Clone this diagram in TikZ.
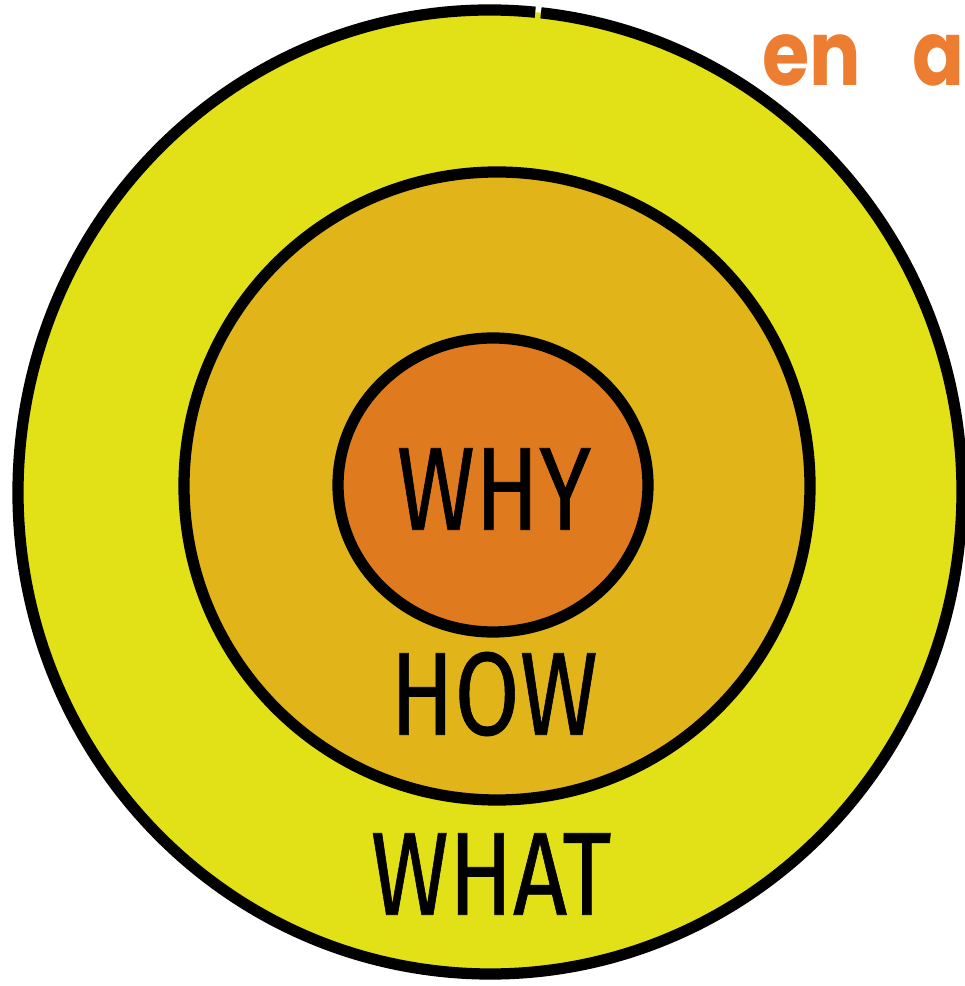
\documentclass[tikz,border=0pt]{standalone}
\usepackage{fontspec}
\setmainfont{Fira Sans}
\newfontfamily\handfont[FakeBold=0.6]{Fira Sans}
\newfontfamily\roundfont{Poppins}
\definecolor{whatyellow}{RGB}{226,224,22}
\definecolor{howgold}{RGB}{225,180,26}
\definecolor{whyorange}{RGB}{224,122,30}
\definecolor{titleorange}{RGB}{237,125,49}
\tikzset{ring/.style={draw=black,line width=8pt},
  word/.style={font=\handfont\fontsize{84}{84}\selectfont,inner sep=0pt,xscale=0.8}}

\begin{document}
\begin{tikzpicture}[x=0.025cm,y=0.025cm]
  \useasboundingbox(0,0)rectangle(965,986);
  \fill[whatyellow](490,494)ellipse[x radius=472,y radius=482];
  \draw[ring](490,494)++(84.5:472 and 482)arc[start angle=84.5,end angle=443.8,x radius=472,y radius=482];
  \filldraw[fill=howgold,ring](497,500)ellipse[x radius=313,y radius=314];
  \filldraw[fill=whyorange,ring](493,501)ellipse[x radius=155,y radius=147];
  \node[word](why)at(494,497){WHY};
  \node[word](how)at(494,292){HOW};
  \node[word](what)at(491,112){WHAT};
  \node[anchor=base west,inner sep=0pt,xscale=0.85,text=titleorange,font=\roundfont\bfseries\fontsize{64}{64}\selectfont](title)at(762,900){en\hspace{0.68em}a};
\end{tikzpicture}
\end{document}
